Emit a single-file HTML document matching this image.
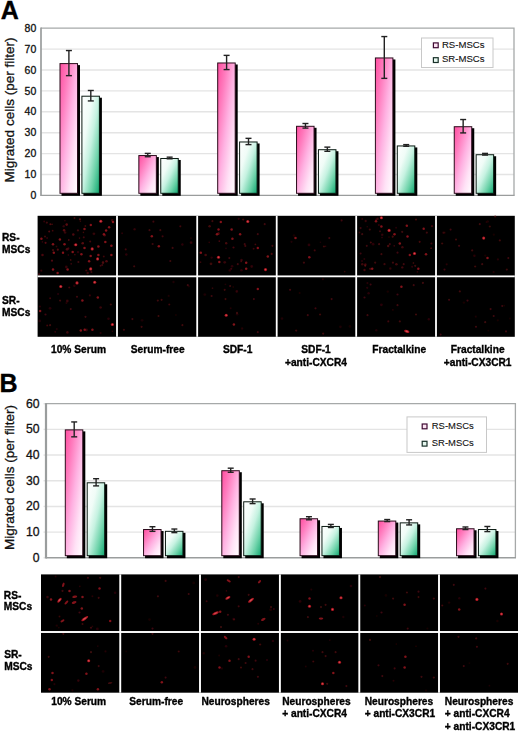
<!DOCTYPE html><html><head><meta charset="utf-8"><style>
html,body{margin:0;padding:0;background:#fff;}
svg{display:block;font-family:'Liberation Sans', sans-serif;filter:blur(0.35px);}
</style></head><body>
<svg width="520" height="731" viewBox="0 0 520 731">
<defs>
<linearGradient id="gp" x1="0" y1="0" x2="1" y2="1"><stop offset="0" stop-color="#ff4d9f"/><stop offset="0.25" stop-color="#ff7cbe"/><stop offset="0.5" stop-color="#ffb2e2"/><stop offset="0.75" stop-color="#ffe2f6"/><stop offset="1" stop-color="#ffffff"/></linearGradient>
<linearGradient id="gg" x1="0" y1="0" x2="1" y2="1"><stop offset="0" stop-color="#ffffff"/><stop offset="0.3" stop-color="#f0fcf7"/><stop offset="0.5" stop-color="#c6f2e1"/><stop offset="0.75" stop-color="#6ed3aa"/><stop offset="1" stop-color="#10a770"/></linearGradient>
<linearGradient id="gps" x1="0" y1="0" x2="1" y2="1"><stop offset="0" stop-color="#ff8cc8"/><stop offset="1" stop-color="#ffe6f4"/></linearGradient>
<linearGradient id="ggs" x1="0" y1="0" x2="1" y2="1"><stop offset="0" stop-color="#e6fff4"/><stop offset="1" stop-color="#7ad4b0"/></linearGradient>
<filter id="bl" x="-5%" y="-5%" width="110%" height="110%"><feGaussianBlur stdDeviation="0.65"/></filter>
</defs>
<rect width="520" height="731" fill="#fff"/>

<text x="0.80" y="19.30" font-size="25" font-weight="bold" text-anchor="start" fill="#000" stroke="#000" stroke-width="0.35" >A</text>
<line x1="41" y1="174.50" x2="514" y2="174.50" stroke="#e4e4e4" stroke-width="1.4"/>
<line x1="41" y1="153.60" x2="514" y2="153.60" stroke="#e4e4e4" stroke-width="1.4"/>
<line x1="41" y1="132.70" x2="514" y2="132.70" stroke="#e4e4e4" stroke-width="1.4"/>
<line x1="41" y1="111.80" x2="514" y2="111.80" stroke="#e4e4e4" stroke-width="1.4"/>
<line x1="41" y1="90.90" x2="514" y2="90.90" stroke="#e4e4e4" stroke-width="1.4"/>
<line x1="41" y1="70.00" x2="514" y2="70.00" stroke="#e4e4e4" stroke-width="1.4"/>
<line x1="41" y1="49.10" x2="514" y2="49.10" stroke="#e4e4e4" stroke-width="1.4"/>
<polyline points="41,28.20 514,28.20 514,195.40" fill="none" stroke="#a6a9a9" stroke-width="1.3"/>
<text x="36.30" y="199.00" font-size="10.5" font-weight="normal" text-anchor="end" fill="#111" stroke="#111" stroke-width="0.3" >0</text>
<text x="36.30" y="178.10" font-size="10.5" font-weight="normal" text-anchor="end" fill="#111" stroke="#111" stroke-width="0.3" >10</text>
<text x="36.30" y="157.20" font-size="10.5" font-weight="normal" text-anchor="end" fill="#111" stroke="#111" stroke-width="0.3" >20</text>
<text x="36.30" y="136.30" font-size="10.5" font-weight="normal" text-anchor="end" fill="#111" stroke="#111" stroke-width="0.3" >30</text>
<text x="36.30" y="115.40" font-size="10.5" font-weight="normal" text-anchor="end" fill="#111" stroke="#111" stroke-width="0.3" >40</text>
<text x="36.30" y="94.50" font-size="10.5" font-weight="normal" text-anchor="end" fill="#111" stroke="#111" stroke-width="0.3" >50</text>
<text x="36.30" y="73.60" font-size="10.5" font-weight="normal" text-anchor="end" fill="#111" stroke="#111" stroke-width="0.3" >60</text>
<text x="36.30" y="52.70" font-size="10.5" font-weight="normal" text-anchor="end" fill="#111" stroke="#111" stroke-width="0.3" >70</text>
<text x="36.30" y="31.80" font-size="10.5" font-weight="normal" text-anchor="end" fill="#111" stroke="#111" stroke-width="0.3" >80</text>
<line x1="41" y1="27.60" x2="41" y2="196.10" stroke="#9a9d9d" stroke-width="1.7"/>
<line x1="41" y1="195.40" x2="514.6" y2="195.40" stroke="#9a9d9d" stroke-width="1.4"/>
<rect x="61.50" y="65.10" width="18.5" height="130.70" fill="#000"/>
<rect x="60.00" y="63.60" width="17.5" height="129.70" fill="url(#gp)" stroke="#2a0a1a" stroke-width="1"/>
<line x1="68.90" y1="50.56" x2="68.90" y2="75.64" stroke="#222" stroke-width="1.4"/>
<line x1="65.90" y1="50.56" x2="71.90" y2="50.56" stroke="#222" stroke-width="1.4"/>
<line x1="65.90" y1="75.64" x2="71.90" y2="75.64" stroke="#222" stroke-width="1.4"/>
<rect x="83.40" y="97.71" width="18.5" height="98.09" fill="#000"/>
<rect x="81.90" y="96.21" width="17.5" height="97.09" fill="url(#gg)" stroke="#0a1a12" stroke-width="1"/>
<line x1="90.80" y1="90.48" x2="90.80" y2="100.93" stroke="#222" stroke-width="1.4"/>
<line x1="87.80" y1="90.48" x2="93.80" y2="90.48" stroke="#222" stroke-width="1.4"/>
<line x1="87.80" y1="100.93" x2="93.80" y2="100.93" stroke="#222" stroke-width="1.4"/>
<rect x="140.35" y="157.06" width="18.5" height="38.74" fill="#000"/>
<rect x="138.85" y="155.56" width="17.5" height="37.74" fill="url(#gp)" stroke="#2a0a1a" stroke-width="1"/>
<line x1="147.75" y1="153.39" x2="147.75" y2="156.74" stroke="#222" stroke-width="1.4"/>
<line x1="144.75" y1="153.39" x2="150.75" y2="153.39" stroke="#222" stroke-width="1.4"/>
<line x1="144.75" y1="156.74" x2="150.75" y2="156.74" stroke="#222" stroke-width="1.4"/>
<rect x="162.25" y="159.99" width="18.5" height="35.81" fill="#000"/>
<rect x="160.75" y="158.49" width="17.5" height="34.81" fill="url(#gg)" stroke="#0a1a12" stroke-width="1"/>
<line x1="169.65" y1="157.15" x2="169.65" y2="158.82" stroke="#222" stroke-width="1.4"/>
<line x1="166.65" y1="157.15" x2="172.65" y2="157.15" stroke="#222" stroke-width="1.4"/>
<line x1="166.65" y1="158.82" x2="172.65" y2="158.82" stroke="#222" stroke-width="1.4"/>
<rect x="219.20" y="64.48" width="18.5" height="131.32" fill="#000"/>
<rect x="217.70" y="62.98" width="17.5" height="130.32" fill="url(#gp)" stroke="#2a0a1a" stroke-width="1"/>
<line x1="226.60" y1="55.37" x2="226.60" y2="69.58" stroke="#222" stroke-width="1.4"/>
<line x1="223.60" y1="55.37" x2="229.60" y2="55.37" stroke="#222" stroke-width="1.4"/>
<line x1="223.60" y1="69.58" x2="229.60" y2="69.58" stroke="#222" stroke-width="1.4"/>
<rect x="241.10" y="143.48" width="18.5" height="52.32" fill="#000"/>
<rect x="239.60" y="141.98" width="17.5" height="51.32" fill="url(#gg)" stroke="#0a1a12" stroke-width="1"/>
<line x1="248.50" y1="138.34" x2="248.50" y2="144.61" stroke="#222" stroke-width="1.4"/>
<line x1="245.50" y1="138.34" x2="251.50" y2="138.34" stroke="#222" stroke-width="1.4"/>
<line x1="245.50" y1="144.61" x2="251.50" y2="144.61" stroke="#222" stroke-width="1.4"/>
<rect x="298.05" y="127.80" width="18.5" height="68.00" fill="#000"/>
<rect x="296.55" y="126.30" width="17.5" height="67.00" fill="url(#gp)" stroke="#2a0a1a" stroke-width="1"/>
<line x1="305.45" y1="123.50" x2="305.45" y2="128.10" stroke="#222" stroke-width="1.4"/>
<line x1="302.45" y1="123.50" x2="308.45" y2="123.50" stroke="#222" stroke-width="1.4"/>
<line x1="302.45" y1="128.10" x2="308.45" y2="128.10" stroke="#222" stroke-width="1.4"/>
<rect x="319.95" y="151.21" width="18.5" height="44.59" fill="#000"/>
<rect x="318.45" y="149.71" width="17.5" height="43.59" fill="url(#gg)" stroke="#0a1a12" stroke-width="1"/>
<line x1="327.35" y1="147.12" x2="327.35" y2="151.30" stroke="#222" stroke-width="1.4"/>
<line x1="324.35" y1="147.12" x2="330.35" y2="147.12" stroke="#222" stroke-width="1.4"/>
<line x1="324.35" y1="151.30" x2="330.35" y2="151.30" stroke="#222" stroke-width="1.4"/>
<rect x="376.90" y="59.46" width="18.5" height="136.34" fill="#000"/>
<rect x="375.40" y="57.96" width="17.5" height="135.34" fill="url(#gp)" stroke="#2a0a1a" stroke-width="1"/>
<line x1="384.30" y1="36.56" x2="384.30" y2="78.36" stroke="#222" stroke-width="1.4"/>
<line x1="381.30" y1="36.56" x2="387.30" y2="36.56" stroke="#222" stroke-width="1.4"/>
<line x1="381.30" y1="78.36" x2="387.30" y2="78.36" stroke="#222" stroke-width="1.4"/>
<rect x="398.80" y="147.45" width="18.5" height="48.35" fill="#000"/>
<rect x="397.30" y="145.95" width="17.5" height="47.35" fill="url(#gg)" stroke="#0a1a12" stroke-width="1"/>
<line x1="406.20" y1="144.61" x2="406.20" y2="146.28" stroke="#222" stroke-width="1.4"/>
<line x1="403.20" y1="144.61" x2="409.20" y2="144.61" stroke="#222" stroke-width="1.4"/>
<line x1="403.20" y1="146.28" x2="409.20" y2="146.28" stroke="#222" stroke-width="1.4"/>
<rect x="455.75" y="128.22" width="18.5" height="67.58" fill="#000"/>
<rect x="454.25" y="126.72" width="17.5" height="66.58" fill="url(#gp)" stroke="#2a0a1a" stroke-width="1"/>
<line x1="463.15" y1="119.53" x2="463.15" y2="132.91" stroke="#222" stroke-width="1.4"/>
<line x1="460.15" y1="119.53" x2="466.15" y2="119.53" stroke="#222" stroke-width="1.4"/>
<line x1="460.15" y1="132.91" x2="466.15" y2="132.91" stroke="#222" stroke-width="1.4"/>
<rect x="477.65" y="156.23" width="18.5" height="39.57" fill="#000"/>
<rect x="476.15" y="154.73" width="17.5" height="38.57" fill="url(#gg)" stroke="#0a1a12" stroke-width="1"/>
<line x1="485.05" y1="153.39" x2="485.05" y2="155.06" stroke="#222" stroke-width="1.4"/>
<line x1="482.05" y1="153.39" x2="488.05" y2="153.39" stroke="#222" stroke-width="1.4"/>
<line x1="482.05" y1="155.06" x2="488.05" y2="155.06" stroke="#222" stroke-width="1.4"/>
<text x="0" y="0" font-size="13.5" text-anchor="middle" fill="#111" stroke="#111" stroke-width="0.3" transform="translate(14,110) rotate(-90)">Migrated cells (per filter)</text>
<rect x="421.5" y="38.0" width="71.5" height="29.5" fill="#fff" stroke="#c8c8c8" stroke-width="1"/>
<rect x="433.40000000000003" y="42.9" width="4.8" height="4.8" fill="#fbe2f1" stroke="#3e0a32" stroke-width="1.2"/>
<text x="441.90" y="48.30" font-size="9.6" font-weight="normal" text-anchor="start" fill="#111" stroke="#111" stroke-width="0.1" >RS-MSCs</text>
<rect x="433.40000000000003" y="57.7" width="4.8" height="4.8" fill="#e6f7ef" stroke="#183028" stroke-width="1.2"/>
<text x="441.90" y="61.90" font-size="9.6" font-weight="normal" text-anchor="start" fill="#111" stroke="#111" stroke-width="0.1" >SR-MSCs</text>
<text x="-0.60" y="391.70" font-size="25" font-weight="bold" text-anchor="start" fill="#000" stroke="#000" stroke-width="0.35" >B</text>
<line x1="46" y1="532.12" x2="515.4" y2="532.12" stroke="#e4e4e4" stroke-width="1.4"/>
<line x1="46" y1="506.43" x2="515.4" y2="506.43" stroke="#e4e4e4" stroke-width="1.4"/>
<line x1="46" y1="480.75" x2="515.4" y2="480.75" stroke="#e4e4e4" stroke-width="1.4"/>
<line x1="46" y1="455.07" x2="515.4" y2="455.07" stroke="#e4e4e4" stroke-width="1.4"/>
<line x1="46" y1="429.38" x2="515.4" y2="429.38" stroke="#e4e4e4" stroke-width="1.4"/>
<polyline points="46,403.70 515.4,403.70 515.4,557.80" fill="none" stroke="#a6a9a9" stroke-width="1.3"/>
<line x1="43.5" y1="557.80" x2="46" y2="557.80" stroke="#e4e4e4" stroke-width="1.4"/>
<text x="39.60" y="561.80" font-size="12.2" font-weight="normal" text-anchor="end" fill="#111" stroke="#111" stroke-width="0.3" >0</text>
<line x1="43.5" y1="532.12" x2="46" y2="532.12" stroke="#e4e4e4" stroke-width="1.4"/>
<text x="39.60" y="536.12" font-size="12.2" font-weight="normal" text-anchor="end" fill="#111" stroke="#111" stroke-width="0.3" >10</text>
<line x1="43.5" y1="506.43" x2="46" y2="506.43" stroke="#e4e4e4" stroke-width="1.4"/>
<text x="39.60" y="510.43" font-size="12.2" font-weight="normal" text-anchor="end" fill="#111" stroke="#111" stroke-width="0.3" >20</text>
<line x1="43.5" y1="480.75" x2="46" y2="480.75" stroke="#e4e4e4" stroke-width="1.4"/>
<text x="39.60" y="484.75" font-size="12.2" font-weight="normal" text-anchor="end" fill="#111" stroke="#111" stroke-width="0.3" >30</text>
<line x1="43.5" y1="455.07" x2="46" y2="455.07" stroke="#e4e4e4" stroke-width="1.4"/>
<text x="39.60" y="459.07" font-size="12.2" font-weight="normal" text-anchor="end" fill="#111" stroke="#111" stroke-width="0.3" >40</text>
<line x1="43.5" y1="429.38" x2="46" y2="429.38" stroke="#e4e4e4" stroke-width="1.4"/>
<text x="39.60" y="433.38" font-size="12.2" font-weight="normal" text-anchor="end" fill="#111" stroke="#111" stroke-width="0.3" >50</text>
<line x1="43.5" y1="403.70" x2="46" y2="403.70" stroke="#e4e4e4" stroke-width="1.4"/>
<text x="39.60" y="407.70" font-size="12.2" font-weight="normal" text-anchor="end" fill="#111" stroke="#111" stroke-width="0.3" >60</text>
<line x1="46" y1="403.10" x2="46" y2="558.50" stroke="#9a9d9d" stroke-width="2.2"/>
<line x1="46" y1="557.80" x2="516.0" y2="557.80" stroke="#9a9d9d" stroke-width="1.4"/>
<rect x="66.80" y="431.38" width="18.5" height="126.82" fill="#000"/>
<rect x="65.30" y="429.88" width="17.5" height="125.82" fill="url(#gp)" stroke="#2a0a1a" stroke-width="1"/>
<line x1="74.20" y1="421.94" x2="74.20" y2="436.83" stroke="#222" stroke-width="1.4"/>
<line x1="71.20" y1="421.94" x2="77.20" y2="421.94" stroke="#222" stroke-width="1.4"/>
<line x1="71.20" y1="436.83" x2="77.20" y2="436.83" stroke="#222" stroke-width="1.4"/>
<rect x="88.70" y="484.29" width="18.5" height="73.91" fill="#000"/>
<rect x="87.20" y="482.79" width="17.5" height="72.91" fill="url(#gg)" stroke="#0a1a12" stroke-width="1"/>
<line x1="96.10" y1="478.70" x2="96.10" y2="485.89" stroke="#222" stroke-width="1.4"/>
<line x1="93.10" y1="478.70" x2="99.10" y2="478.70" stroke="#222" stroke-width="1.4"/>
<line x1="93.10" y1="485.89" x2="99.10" y2="485.89" stroke="#222" stroke-width="1.4"/>
<rect x="145.05" y="531.03" width="18.5" height="27.17" fill="#000"/>
<rect x="143.55" y="529.53" width="17.5" height="26.17" fill="url(#gp)" stroke="#2a0a1a" stroke-width="1"/>
<line x1="152.45" y1="526.72" x2="152.45" y2="531.35" stroke="#222" stroke-width="1.4"/>
<line x1="149.45" y1="526.72" x2="155.45" y2="526.72" stroke="#222" stroke-width="1.4"/>
<line x1="149.45" y1="531.35" x2="155.45" y2="531.35" stroke="#222" stroke-width="1.4"/>
<rect x="166.95" y="532.83" width="18.5" height="25.37" fill="#000"/>
<rect x="165.45" y="531.33" width="17.5" height="24.37" fill="url(#gg)" stroke="#0a1a12" stroke-width="1"/>
<line x1="174.35" y1="529.03" x2="174.35" y2="532.63" stroke="#222" stroke-width="1.4"/>
<line x1="171.35" y1="529.03" x2="177.35" y2="529.03" stroke="#222" stroke-width="1.4"/>
<line x1="171.35" y1="532.63" x2="177.35" y2="532.63" stroke="#222" stroke-width="1.4"/>
<rect x="223.30" y="472.22" width="18.5" height="85.98" fill="#000"/>
<rect x="221.80" y="470.72" width="17.5" height="84.98" fill="url(#gp)" stroke="#2a0a1a" stroke-width="1"/>
<line x1="230.70" y1="468.17" x2="230.70" y2="472.27" stroke="#222" stroke-width="1.4"/>
<line x1="227.70" y1="468.17" x2="233.70" y2="468.17" stroke="#222" stroke-width="1.4"/>
<line x1="227.70" y1="472.27" x2="233.70" y2="472.27" stroke="#222" stroke-width="1.4"/>
<rect x="245.20" y="503.30" width="18.5" height="54.90" fill="#000"/>
<rect x="243.70" y="501.80" width="17.5" height="53.90" fill="url(#gg)" stroke="#0a1a12" stroke-width="1"/>
<line x1="252.60" y1="498.99" x2="252.60" y2="503.61" stroke="#222" stroke-width="1.4"/>
<line x1="249.60" y1="498.99" x2="255.60" y2="498.99" stroke="#222" stroke-width="1.4"/>
<line x1="249.60" y1="503.61" x2="255.60" y2="503.61" stroke="#222" stroke-width="1.4"/>
<rect x="301.55" y="520.25" width="18.5" height="37.95" fill="#000"/>
<rect x="300.05" y="518.75" width="17.5" height="36.95" fill="url(#gp)" stroke="#2a0a1a" stroke-width="1"/>
<line x1="308.95" y1="516.71" x2="308.95" y2="519.79" stroke="#222" stroke-width="1.4"/>
<line x1="305.95" y1="516.71" x2="311.95" y2="516.71" stroke="#222" stroke-width="1.4"/>
<line x1="305.95" y1="519.79" x2="311.95" y2="519.79" stroke="#222" stroke-width="1.4"/>
<rect x="323.45" y="527.95" width="18.5" height="30.25" fill="#000"/>
<rect x="321.95" y="526.45" width="17.5" height="29.25" fill="url(#gg)" stroke="#0a1a12" stroke-width="1"/>
<line x1="330.85" y1="524.41" x2="330.85" y2="527.49" stroke="#222" stroke-width="1.4"/>
<line x1="327.85" y1="524.41" x2="333.85" y2="524.41" stroke="#222" stroke-width="1.4"/>
<line x1="327.85" y1="527.49" x2="333.85" y2="527.49" stroke="#222" stroke-width="1.4"/>
<rect x="379.80" y="522.56" width="18.5" height="35.64" fill="#000"/>
<rect x="378.30" y="521.06" width="17.5" height="34.64" fill="url(#gp)" stroke="#2a0a1a" stroke-width="1"/>
<line x1="387.20" y1="519.53" x2="387.20" y2="521.59" stroke="#222" stroke-width="1.4"/>
<line x1="384.20" y1="519.53" x2="390.20" y2="519.53" stroke="#222" stroke-width="1.4"/>
<line x1="384.20" y1="521.59" x2="390.20" y2="521.59" stroke="#222" stroke-width="1.4"/>
<rect x="401.70" y="524.36" width="18.5" height="33.84" fill="#000"/>
<rect x="400.20" y="522.86" width="17.5" height="32.84" fill="url(#gg)" stroke="#0a1a12" stroke-width="1"/>
<line x1="409.10" y1="519.79" x2="409.10" y2="524.93" stroke="#222" stroke-width="1.4"/>
<line x1="406.10" y1="519.79" x2="412.10" y2="519.79" stroke="#222" stroke-width="1.4"/>
<line x1="406.10" y1="524.93" x2="412.10" y2="524.93" stroke="#222" stroke-width="1.4"/>
<rect x="458.05" y="530.26" width="18.5" height="27.94" fill="#000"/>
<rect x="456.55" y="528.76" width="17.5" height="26.94" fill="url(#gp)" stroke="#2a0a1a" stroke-width="1"/>
<line x1="465.45" y1="526.98" x2="465.45" y2="529.55" stroke="#222" stroke-width="1.4"/>
<line x1="462.45" y1="526.98" x2="468.45" y2="526.98" stroke="#222" stroke-width="1.4"/>
<line x1="462.45" y1="529.55" x2="468.45" y2="529.55" stroke="#222" stroke-width="1.4"/>
<rect x="479.95" y="531.03" width="18.5" height="27.17" fill="#000"/>
<rect x="478.45" y="529.53" width="17.5" height="26.17" fill="url(#gg)" stroke="#0a1a12" stroke-width="1"/>
<line x1="487.35" y1="526.47" x2="487.35" y2="531.60" stroke="#222" stroke-width="1.4"/>
<line x1="484.35" y1="526.47" x2="490.35" y2="526.47" stroke="#222" stroke-width="1.4"/>
<line x1="484.35" y1="531.60" x2="490.35" y2="531.60" stroke="#222" stroke-width="1.4"/>
<text x="0" y="0" font-size="13.5" text-anchor="middle" fill="#111" stroke="#111" stroke-width="0.3" transform="translate(14,477.5) rotate(-90)">Migrated cells (per filter)</text>
<rect x="407" y="416.9" width="79.5" height="35.5" fill="#fff" stroke="#c8c8c8" stroke-width="1"/>
<rect x="422.20000000000005" y="424.0" width="4.8" height="4.8" fill="#fbe2f1" stroke="#3e0a32" stroke-width="1.2"/>
<text x="431.80" y="428.60" font-size="9.45" font-weight="normal" text-anchor="start" fill="#111" stroke="#111" stroke-width="0.1" >RS-MSCs</text>
<rect x="422.20000000000005" y="441.3" width="4.8" height="4.8" fill="#e6f7ef" stroke="#183028" stroke-width="1.2"/>
<text x="431.80" y="445.90" font-size="9.45" font-weight="normal" text-anchor="start" fill="#111" stroke="#111" stroke-width="0.1" >SR-MSCs</text>
<rect x="37.6" y="215.8" width="477.20" height="121.00" fill="#000"/>
<rect x="41.0" y="574.4" width="477.00" height="118.30" fill="#000"/>
<g filter="url(#bl)">
<circle cx="63.7" cy="226.2" r="1.2" fill="#a0141e" fill-opacity="0.29"/>
<circle cx="79.5" cy="238.1" r="0.8" fill="#a0141e" fill-opacity="0.41"/>
<circle cx="42.4" cy="241.9" r="0.8" fill="#a0141e" fill-opacity="0.30"/>
<circle cx="71.2" cy="263.8" r="0.9" fill="#a0141e" fill-opacity="0.34"/>
<circle cx="86.3" cy="270.5" r="1.1" fill="#a0141e" fill-opacity="0.38"/>
<circle cx="112.2" cy="220.4" r="1.3" fill="#a0141e" fill-opacity="0.35"/>
<circle cx="50.3" cy="224.3" r="1.0" fill="#a0141e" fill-opacity="0.50"/>
<circle cx="53.0" cy="250.1" r="1.2" fill="#a0141e" fill-opacity="0.38"/>
<circle cx="80.4" cy="221.3" r="0.8" fill="#a0141e" fill-opacity="0.33"/>
<circle cx="90.2" cy="241.6" r="1.0" fill="#a0141e" fill-opacity="0.44"/>
<circle cx="73.3" cy="234.5" r="1.3" fill="#a0141e" fill-opacity="0.47"/>
<circle cx="57.8" cy="249.7" r="1.1" fill="#a0141e" fill-opacity="0.52"/>
<circle cx="93.9" cy="233.8" r="1.4" fill="#a0141e" fill-opacity="0.31"/>
<circle cx="70.7" cy="259.9" r="0.9" fill="#a0141e" fill-opacity="0.41"/>
<circle cx="42.5" cy="255.0" r="1.3" fill="#a0141e" fill-opacity="0.43"/>
<circle cx="104.7" cy="235.2" r="1.2" fill="#a0141e" fill-opacity="0.44"/>
<circle cx="82.7" cy="243.2" r="1.3" fill="#a0141e" fill-opacity="0.53"/>
<circle cx="74.9" cy="254.7" r="0.8" fill="#a0141e" fill-opacity="0.47"/>
<circle cx="87.7" cy="273.0" r="1.3" fill="#a0141e" fill-opacity="0.35"/>
<circle cx="68.3" cy="255.0" r="0.8" fill="#a0141e" fill-opacity="0.40"/>
<circle cx="52.1" cy="224.3" r="0.8" fill="#a0141e" fill-opacity="0.49"/>
<circle cx="49.2" cy="231.6" r="1.0" fill="#a0141e" fill-opacity="0.51"/>
<circle cx="45.6" cy="242.8" r="1.1" fill="#a0141e" fill-opacity="0.52"/>
<circle cx="100.6" cy="265.8" r="1.0" fill="#a0141e" fill-opacity="0.39"/>
<circle cx="66.3" cy="267.0" r="1.4" fill="#a0141e" fill-opacity="0.32"/>
<circle cx="52.7" cy="230.7" r="0.9" fill="#a0141e" fill-opacity="0.41"/>
<circle cx="83.4" cy="232.4" r="0.8" fill="#a0141e" fill-opacity="0.39"/>
<circle cx="67.1" cy="249.3" r="1.4" fill="#a0141e" fill-opacity="0.46"/>
<circle cx="78.0" cy="252.1" r="1.2" fill="#a0141e" fill-opacity="0.29"/>
<circle cx="106.5" cy="261.2" r="1.3" fill="#a0141e" fill-opacity="0.49"/>
<circle cx="68.8" cy="240.0" r="0.9" fill="#a0141e" fill-opacity="0.45"/>
<circle cx="44.2" cy="221.5" r="0.9" fill="#a0141e" fill-opacity="0.32"/>
<circle cx="64.9" cy="220.7" r="0.8" fill="#a0141e" fill-opacity="0.32"/>
<circle cx="47.1" cy="238.0" r="0.8" fill="#a0141e" fill-opacity="0.52"/>
<circle cx="85.3" cy="226.1" r="1.0" fill="#a0141e" fill-opacity="0.37"/>
<circle cx="66.7" cy="224.6" r="1.3" fill="#a0141e" fill-opacity="0.55"/>
<circle cx="74.3" cy="244.7" r="0.9" fill="#a0141e" fill-opacity="0.30"/>
<circle cx="65.1" cy="232.5" r="1.3" fill="#a0141e" fill-opacity="0.32"/>
<circle cx="41.3" cy="270.7" r="1.1" fill="#a0141e" fill-opacity="0.32"/>
<circle cx="80.0" cy="219.3" r="1.1" fill="#a0141e" fill-opacity="0.54"/>
<circle cx="103.8" cy="256.5" r="1.0" fill="#a0141e" fill-opacity="0.38"/>
<circle cx="52.0" cy="260.7" r="1.1" fill="#a0141e" fill-opacity="0.49"/>
<circle cx="64.1" cy="230.2" r="1.3" fill="#a0141e" fill-opacity="0.55"/>
<circle cx="103.0" cy="262.6" r="1.3" fill="#a0141e" fill-opacity="0.48"/>
<circle cx="56.5" cy="246.6" r="1.0" fill="#a0141e" fill-opacity="0.28"/>
<circle cx="122.1" cy="233.3" r="1.0" fill="#a0141e" fill-opacity="0.25"/>
<circle cx="191.1" cy="242.7" r="1.4" fill="#a0141e" fill-opacity="0.30"/>
<circle cx="191.0" cy="238.1" r="0.9" fill="#a0141e" fill-opacity="0.18"/>
<circle cx="134.6" cy="229.2" r="1.2" fill="#a0141e" fill-opacity="0.29"/>
<circle cx="182.4" cy="244.5" r="1.2" fill="#a0141e" fill-opacity="0.27"/>
<circle cx="126.3" cy="254.5" r="1.3" fill="#a0141e" fill-opacity="0.27"/>
<circle cx="255.4" cy="244.4" r="0.9" fill="#a0141e" fill-opacity="0.40"/>
<circle cx="224.7" cy="262.3" r="1.4" fill="#a0141e" fill-opacity="0.31"/>
<circle cx="229.7" cy="270.4" r="1.2" fill="#a0141e" fill-opacity="0.26"/>
<circle cx="209.6" cy="226.2" r="1.3" fill="#a0141e" fill-opacity="0.41"/>
<circle cx="211.0" cy="263.8" r="1.4" fill="#a0141e" fill-opacity="0.37"/>
<circle cx="226.0" cy="248.3" r="0.9" fill="#a0141e" fill-opacity="0.23"/>
<circle cx="271.7" cy="253.9" r="1.1" fill="#a0141e" fill-opacity="0.44"/>
<circle cx="232.1" cy="266.3" r="1.3" fill="#a0141e" fill-opacity="0.27"/>
<circle cx="218.7" cy="234.1" r="0.9" fill="#a0141e" fill-opacity="0.36"/>
<circle cx="219.3" cy="241.1" r="0.9" fill="#a0141e" fill-opacity="0.43"/>
<circle cx="226.2" cy="243.3" r="1.2" fill="#a0141e" fill-opacity="0.43"/>
<circle cx="231.2" cy="268.8" r="1.1" fill="#a0141e" fill-opacity="0.34"/>
<circle cx="238.7" cy="218.8" r="1.1" fill="#a0141e" fill-opacity="0.27"/>
<circle cx="200.5" cy="262.2" r="0.9" fill="#a0141e" fill-opacity="0.33"/>
<circle cx="253.6" cy="248.7" r="1.0" fill="#a0141e" fill-opacity="0.34"/>
<circle cx="241.1" cy="261.4" r="0.9" fill="#a0141e" fill-opacity="0.35"/>
<circle cx="218.5" cy="233.2" r="1.3" fill="#a0141e" fill-opacity="0.34"/>
<circle cx="241.5" cy="260.1" r="1.3" fill="#a0141e" fill-opacity="0.32"/>
<circle cx="245.3" cy="245.9" r="1.1" fill="#a0141e" fill-opacity="0.38"/>
<circle cx="233.5" cy="247.5" r="1.1" fill="#a0141e" fill-opacity="0.44"/>
<circle cx="251.7" cy="266.5" r="1.4" fill="#a0141e" fill-opacity="0.28"/>
<circle cx="241.4" cy="270.2" r="1.3" fill="#a0141e" fill-opacity="0.26"/>
<circle cx="209.2" cy="242.4" r="0.8" fill="#a0141e" fill-opacity="0.28"/>
<circle cx="205.6" cy="255.0" r="1.3" fill="#a0141e" fill-opacity="0.43"/>
<circle cx="211.6" cy="257.6" r="1.2" fill="#a0141e" fill-opacity="0.26"/>
<circle cx="344.7" cy="271.6" r="0.9" fill="#a0141e" fill-opacity="0.29"/>
<circle cx="309.0" cy="244.9" r="1.4" fill="#a0141e" fill-opacity="0.27"/>
<circle cx="291.5" cy="241.8" r="1.1" fill="#a0141e" fill-opacity="0.20"/>
<circle cx="294.0" cy="235.5" r="1.2" fill="#a0141e" fill-opacity="0.15"/>
<circle cx="320.4" cy="242.3" r="0.8" fill="#a0141e" fill-opacity="0.20"/>
<circle cx="325.6" cy="246.3" r="0.8" fill="#a0141e" fill-opacity="0.30"/>
<circle cx="417.4" cy="271.8" r="0.9" fill="#a0141e" fill-opacity="0.28"/>
<circle cx="362.0" cy="261.1" r="1.0" fill="#a0141e" fill-opacity="0.25"/>
<circle cx="390.3" cy="268.5" r="1.3" fill="#a0141e" fill-opacity="0.28"/>
<circle cx="370.2" cy="268.9" r="1.1" fill="#a0141e" fill-opacity="0.38"/>
<circle cx="365.7" cy="221.0" r="1.2" fill="#a0141e" fill-opacity="0.32"/>
<circle cx="364.5" cy="270.0" r="1.2" fill="#a0141e" fill-opacity="0.41"/>
<circle cx="365.3" cy="265.4" r="0.8" fill="#a0141e" fill-opacity="0.42"/>
<circle cx="392.7" cy="236.7" r="1.1" fill="#a0141e" fill-opacity="0.43"/>
<circle cx="378.9" cy="225.0" r="1.1" fill="#a0141e" fill-opacity="0.28"/>
<circle cx="367.2" cy="226.8" r="0.8" fill="#a0141e" fill-opacity="0.27"/>
<circle cx="382.2" cy="234.8" r="1.3" fill="#a0141e" fill-opacity="0.29"/>
<circle cx="396.1" cy="227.7" r="1.0" fill="#a0141e" fill-opacity="0.23"/>
<circle cx="377.6" cy="218.7" r="1.2" fill="#a0141e" fill-opacity="0.35"/>
<circle cx="373.1" cy="244.2" r="1.4" fill="#a0141e" fill-opacity="0.25"/>
<circle cx="419.7" cy="241.8" r="1.1" fill="#a0141e" fill-opacity="0.41"/>
<circle cx="388.2" cy="246.0" r="1.2" fill="#a0141e" fill-opacity="0.45"/>
<circle cx="384.5" cy="264.1" r="1.2" fill="#a0141e" fill-opacity="0.37"/>
<circle cx="389.0" cy="237.1" r="0.8" fill="#a0141e" fill-opacity="0.25"/>
<circle cx="364.3" cy="259.0" r="1.0" fill="#a0141e" fill-opacity="0.26"/>
<circle cx="365.4" cy="264.6" r="1.3" fill="#a0141e" fill-opacity="0.38"/>
<circle cx="380.0" cy="231.3" r="1.0" fill="#a0141e" fill-opacity="0.33"/>
<circle cx="370.8" cy="242.6" r="1.0" fill="#a0141e" fill-opacity="0.44"/>
<circle cx="431.1" cy="248.2" r="0.9" fill="#a0141e" fill-opacity="0.44"/>
<circle cx="382.0" cy="237.6" r="0.8" fill="#a0141e" fill-opacity="0.31"/>
<circle cx="394.2" cy="245.8" r="0.9" fill="#a0141e" fill-opacity="0.34"/>
<circle cx="359.5" cy="232.5" r="0.9" fill="#a0141e" fill-opacity="0.31"/>
<circle cx="362.2" cy="219.1" r="1.0" fill="#a0141e" fill-opacity="0.28"/>
<circle cx="402.4" cy="247.2" r="1.3" fill="#a0141e" fill-opacity="0.37"/>
<circle cx="412.1" cy="266.7" r="1.0" fill="#a0141e" fill-opacity="0.30"/>
<circle cx="432.0" cy="226.1" r="1.2" fill="#a0141e" fill-opacity="0.37"/>
<circle cx="362.3" cy="264.2" r="1.3" fill="#a0141e" fill-opacity="0.37"/>
<circle cx="413.4" cy="263.0" r="0.9" fill="#a0141e" fill-opacity="0.34"/>
<circle cx="396.4" cy="264.2" r="1.3" fill="#a0141e" fill-opacity="0.41"/>
<circle cx="402.3" cy="267.4" r="1.2" fill="#a0141e" fill-opacity="0.38"/>
<circle cx="376.1" cy="219.5" r="0.9" fill="#a0141e" fill-opacity="0.31"/>
<circle cx="446.7" cy="264.3" r="1.1" fill="#a0141e" fill-opacity="0.24"/>
<circle cx="485.2" cy="255.6" r="1.1" fill="#a0141e" fill-opacity="0.15"/>
<circle cx="497.9" cy="259.4" r="1.1" fill="#a0141e" fill-opacity="0.23"/>
<circle cx="487.7" cy="221.5" r="1.2" fill="#a0141e" fill-opacity="0.19"/>
<circle cx="444.5" cy="232.6" r="1.2" fill="#a0141e" fill-opacity="0.18"/>
<circle cx="493.6" cy="272.1" r="1.1" fill="#a0141e" fill-opacity="0.21"/>
<circle cx="474.4" cy="255.8" r="1.3" fill="#a0141e" fill-opacity="0.24"/>
<circle cx="486.4" cy="222.1" r="0.9" fill="#a0141e" fill-opacity="0.19"/>
<circle cx="493.8" cy="234.7" r="1.1" fill="#a0141e" fill-opacity="0.15"/>
<circle cx="443.5" cy="232.7" r="1.2" fill="#a0141e" fill-opacity="0.25"/>
<circle cx="89.9" cy="295.4" r="1.1" fill="#a0141e" fill-opacity="0.29"/>
<circle cx="74.3" cy="285.8" r="1.3" fill="#a0141e" fill-opacity="0.24"/>
<circle cx="112.4" cy="331.3" r="0.8" fill="#a0141e" fill-opacity="0.29"/>
<circle cx="100.6" cy="333.0" r="1.1" fill="#a0141e" fill-opacity="0.25"/>
<circle cx="55.2" cy="331.8" r="0.9" fill="#a0141e" fill-opacity="0.32"/>
<circle cx="50.1" cy="308.3" r="1.4" fill="#a0141e" fill-opacity="0.23"/>
<circle cx="100.6" cy="307.5" r="1.3" fill="#a0141e" fill-opacity="0.34"/>
<circle cx="56.8" cy="329.1" r="1.1" fill="#a0141e" fill-opacity="0.20"/>
<circle cx="39.9" cy="306.5" r="1.1" fill="#a0141e" fill-opacity="0.26"/>
<circle cx="50.1" cy="298.3" r="1.0" fill="#a0141e" fill-opacity="0.37"/>
<circle cx="39.7" cy="320.9" r="1.3" fill="#a0141e" fill-opacity="0.22"/>
<circle cx="108.5" cy="318.8" r="1.3" fill="#a0141e" fill-opacity="0.26"/>
<circle cx="67.3" cy="301.0" r="1.4" fill="#a0141e" fill-opacity="0.32"/>
<circle cx="66.4" cy="303.0" r="1.0" fill="#a0141e" fill-opacity="0.21"/>
<circle cx="47.2" cy="325.6" r="1.0" fill="#a0141e" fill-opacity="0.39"/>
<circle cx="58.1" cy="294.0" r="1.1" fill="#a0141e" fill-opacity="0.24"/>
<circle cx="67.4" cy="332.4" r="1.3" fill="#a0141e" fill-opacity="0.36"/>
<circle cx="86.5" cy="330.0" r="1.4" fill="#a0141e" fill-opacity="0.31"/>
<circle cx="173.5" cy="282.0" r="1.2" fill="#a0141e" fill-opacity="0.18"/>
<circle cx="175.9" cy="315.0" r="1.0" fill="#a0141e" fill-opacity="0.13"/>
<circle cx="188.9" cy="286.3" r="1.1" fill="#a0141e" fill-opacity="0.17"/>
<circle cx="142.1" cy="320.3" r="1.4" fill="#a0141e" fill-opacity="0.16"/>
<circle cx="168.7" cy="295.9" r="1.1" fill="#a0141e" fill-opacity="0.17"/>
<circle cx="212.5" cy="288.2" r="0.9" fill="#a0141e" fill-opacity="0.29"/>
<circle cx="236.8" cy="291.4" r="1.3" fill="#a0141e" fill-opacity="0.30"/>
<circle cx="233.3" cy="287.0" r="0.9" fill="#a0141e" fill-opacity="0.16"/>
<circle cx="225.4" cy="284.3" r="0.9" fill="#a0141e" fill-opacity="0.19"/>
<circle cx="242.1" cy="328.5" r="1.2" fill="#a0141e" fill-opacity="0.21"/>
<circle cx="230.7" cy="308.3" r="1.0" fill="#a0141e" fill-opacity="0.20"/>
<circle cx="204.8" cy="294.6" r="1.4" fill="#a0141e" fill-opacity="0.17"/>
<circle cx="237.2" cy="314.2" r="1.3" fill="#a0141e" fill-opacity="0.18"/>
<circle cx="299.6" cy="293.0" r="1.0" fill="#a0141e" fill-opacity="0.18"/>
<circle cx="349.9" cy="326.4" r="1.3" fill="#a0141e" fill-opacity="0.13"/>
<circle cx="282.0" cy="318.6" r="1.3" fill="#a0141e" fill-opacity="0.18"/>
<circle cx="322.9" cy="279.2" r="1.0" fill="#a0141e" fill-opacity="0.24"/>
<circle cx="340.4" cy="326.8" r="1.4" fill="#a0141e" fill-opacity="0.16"/>
<circle cx="367.2" cy="287.8" r="1.1" fill="#a0141e" fill-opacity="0.25"/>
<circle cx="428.8" cy="319.3" r="1.2" fill="#a0141e" fill-opacity="0.26"/>
<circle cx="392.9" cy="309.9" r="0.8" fill="#a0141e" fill-opacity="0.27"/>
<circle cx="376.3" cy="330.3" r="1.2" fill="#a0141e" fill-opacity="0.20"/>
<circle cx="368.6" cy="293.2" r="1.2" fill="#a0141e" fill-opacity="0.25"/>
<circle cx="367.4" cy="283.1" r="1.1" fill="#a0141e" fill-opacity="0.24"/>
<circle cx="387.8" cy="291.6" r="1.2" fill="#a0141e" fill-opacity="0.15"/>
<circle cx="381.4" cy="304.8" r="1.4" fill="#a0141e" fill-opacity="0.25"/>
<circle cx="504.2" cy="305.6" r="0.9" fill="#a0141e" fill-opacity="0.16"/>
<circle cx="509.9" cy="318.4" r="1.0" fill="#a0141e" fill-opacity="0.13"/>
<circle cx="475.8" cy="316.7" r="1.1" fill="#a0141e" fill-opacity="0.16"/>
<circle cx="488.3" cy="330.6" r="0.9" fill="#a0141e" fill-opacity="0.13"/>
<circle cx="463.9" cy="302.6" r="1.2" fill="#a0141e" fill-opacity="0.15"/>
<circle cx="497.8" cy="320.3" r="1.1" fill="#a0141e" fill-opacity="0.15"/>
<circle cx="115.1" cy="592.8" r="1.3" fill="#a0141e" fill-opacity="0.22"/>
<circle cx="59.5" cy="616.4" r="1.0" fill="#a0141e" fill-opacity="0.34"/>
<circle cx="79.8" cy="586.3" r="0.9" fill="#a0141e" fill-opacity="0.25"/>
<circle cx="92.4" cy="626.3" r="0.9" fill="#a0141e" fill-opacity="0.24"/>
<circle cx="58.8" cy="627.6" r="0.9" fill="#a0141e" fill-opacity="0.18"/>
<circle cx="47.5" cy="597.1" r="1.3" fill="#a0141e" fill-opacity="0.33"/>
<circle cx="97.4" cy="628.9" r="1.4" fill="#a0141e" fill-opacity="0.23"/>
<circle cx="56.8" cy="625.6" r="1.2" fill="#a0141e" fill-opacity="0.18"/>
<circle cx="92.4" cy="596.3" r="1.0" fill="#a0141e" fill-opacity="0.23"/>
<circle cx="55.6" cy="576.6" r="1.0" fill="#a0141e" fill-opacity="0.24"/>
<circle cx="193.7" cy="582.9" r="1.4" fill="#a0141e" fill-opacity="0.12"/>
<circle cx="149.5" cy="619.6" r="1.3" fill="#a0141e" fill-opacity="0.14"/>
<circle cx="206.6" cy="601.3" r="1.0" fill="#a0141e" fill-opacity="0.34"/>
<circle cx="217.3" cy="595.6" r="1.3" fill="#a0141e" fill-opacity="0.18"/>
<circle cx="233.4" cy="619.1" r="1.3" fill="#a0141e" fill-opacity="0.18"/>
<circle cx="205.6" cy="579.7" r="1.4" fill="#a0141e" fill-opacity="0.22"/>
<circle cx="258.2" cy="623.7" r="1.0" fill="#a0141e" fill-opacity="0.22"/>
<circle cx="273.8" cy="608.9" r="1.0" fill="#a0141e" fill-opacity="0.30"/>
<circle cx="226.4" cy="590.9" r="0.8" fill="#a0141e" fill-opacity="0.31"/>
<circle cx="270.7" cy="609.7" r="1.4" fill="#a0141e" fill-opacity="0.18"/>
<circle cx="300.1" cy="601.4" r="1.4" fill="#a0141e" fill-opacity="0.24"/>
<circle cx="311.3" cy="589.6" r="1.1" fill="#a0141e" fill-opacity="0.19"/>
<circle cx="351.0" cy="586.0" r="1.3" fill="#a0141e" fill-opacity="0.22"/>
<circle cx="343.3" cy="617.0" r="1.2" fill="#a0141e" fill-opacity="0.17"/>
<circle cx="385.9" cy="595.4" r="1.3" fill="#a0141e" fill-opacity="0.13"/>
<circle cx="376.8" cy="616.0" r="0.9" fill="#a0141e" fill-opacity="0.13"/>
<circle cx="364.8" cy="605.5" r="1.0" fill="#a0141e" fill-opacity="0.25"/>
<circle cx="427.4" cy="628.4" r="1.0" fill="#a0141e" fill-opacity="0.14"/>
<circle cx="449.1" cy="602.6" r="1.2" fill="#a0141e" fill-opacity="0.18"/>
<circle cx="459.3" cy="598.3" r="1.2" fill="#a0141e" fill-opacity="0.21"/>
<circle cx="497.4" cy="621.0" r="1.2" fill="#a0141e" fill-opacity="0.14"/>
<circle cx="105.5" cy="651.4" r="1.1" fill="#a0141e" fill-opacity="0.21"/>
<circle cx="97.8" cy="646.1" r="0.9" fill="#a0141e" fill-opacity="0.19"/>
<circle cx="54.4" cy="684.2" r="1.1" fill="#a0141e" fill-opacity="0.20"/>
<circle cx="72.4" cy="690.3" r="1.1" fill="#a0141e" fill-opacity="0.18"/>
<circle cx="103.1" cy="671.4" r="1.4" fill="#a0141e" fill-opacity="0.17"/>
<circle cx="78.3" cy="680.6" r="1.3" fill="#a0141e" fill-opacity="0.29"/>
<circle cx="126.2" cy="651.4" r="0.9" fill="#a0141e" fill-opacity="0.12"/>
<circle cx="195.0" cy="667.5" r="1.4" fill="#a0141e" fill-opacity="0.14"/>
<circle cx="267.0" cy="660.0" r="1.0" fill="#a0141e" fill-opacity="0.27"/>
<circle cx="272.9" cy="640.9" r="1.2" fill="#a0141e" fill-opacity="0.24"/>
<circle cx="219.1" cy="655.5" r="0.9" fill="#a0141e" fill-opacity="0.18"/>
<circle cx="221.8" cy="668.4" r="1.2" fill="#a0141e" fill-opacity="0.18"/>
<circle cx="203.8" cy="653.2" r="1.2" fill="#a0141e" fill-opacity="0.18"/>
<circle cx="226.1" cy="646.3" r="1.3" fill="#a0141e" fill-opacity="0.23"/>
<circle cx="287.5" cy="640.6" r="1.0" fill="#a0141e" fill-opacity="0.19"/>
<circle cx="329.8" cy="640.1" r="0.9" fill="#a0141e" fill-opacity="0.21"/>
<circle cx="313.0" cy="650.8" r="1.0" fill="#a0141e" fill-opacity="0.24"/>
<circle cx="305.8" cy="666.6" r="1.0" fill="#a0141e" fill-opacity="0.18"/>
<circle cx="426.0" cy="690.5" r="1.0" fill="#a0141e" fill-opacity="0.15"/>
<circle cx="416.0" cy="646.3" r="0.8" fill="#a0141e" fill-opacity="0.24"/>
<circle cx="393.5" cy="680.7" r="1.0" fill="#a0141e" fill-opacity="0.24"/>
<circle cx="396.3" cy="644.1" r="0.8" fill="#a0141e" fill-opacity="0.19"/>
<circle cx="489.4" cy="685.7" r="0.9" fill="#a0141e" fill-opacity="0.16"/>
<circle cx="469.4" cy="663.1" r="0.9" fill="#a0141e" fill-opacity="0.13"/>
</g>
<g filter="url(#bl)">
<circle cx="100.8" cy="221.2" r="1.55" fill="#c01a24" fill-opacity="0.9"/>
<circle cx="100.8" cy="221.2" r="0.7" fill="#f07c84" fill-opacity="0.55"/>
<circle cx="90.8" cy="225" r="1.25" fill="#a0161f" fill-opacity="0.8"/>
<circle cx="103.9" cy="234.2" r="1.25" fill="#a0161f" fill-opacity="0.8"/>
<circle cx="41.4" cy="238.8" r="1.25" fill="#a0161f" fill-opacity="0.8"/>
<circle cx="45" cy="236.6" r="1.1" fill="#5a0e16" fill-opacity="0.65"/>
<circle cx="59.9" cy="239.6" r="1.25" fill="#a0161f" fill-opacity="0.8"/>
<circle cx="53" cy="244.3" r="1.25" fill="#a0161f" fill-opacity="0.8"/>
<circle cx="64.5" cy="244.3" r="1.25" fill="#a0161f" fill-opacity="0.8"/>
<circle cx="75.8" cy="244.7" r="1.55" fill="#c01a24" fill-opacity="0.9"/>
<circle cx="75.8" cy="244.7" r="0.7" fill="#f07c84" fill-opacity="0.55"/>
<circle cx="84.5" cy="248.1" r="1.25" fill="#a0161f" fill-opacity="0.8"/>
<circle cx="92.2" cy="248.9" r="1.55" fill="#c01a24" fill-opacity="0.9"/>
<circle cx="92.2" cy="248.9" r="0.7" fill="#f07c84" fill-opacity="0.55"/>
<circle cx="98.4" cy="246.6" r="1.25" fill="#a0161f" fill-opacity="0.8"/>
<circle cx="53.8" cy="252.7" r="1.25" fill="#a0161f" fill-opacity="0.8"/>
<circle cx="63" cy="252.7" r="1.25" fill="#a0161f" fill-opacity="0.8"/>
<circle cx="72.7" cy="252" r="1.25" fill="#a0161f" fill-opacity="0.8"/>
<circle cx="81.4" cy="254.3" r="1.25" fill="#a0161f" fill-opacity="0.8"/>
<circle cx="90.7" cy="256.1" r="1.25" fill="#a0161f" fill-opacity="0.8"/>
<circle cx="98.4" cy="255" r="1.25" fill="#a0161f" fill-opacity="0.8"/>
<circle cx="97.6" cy="258.9" r="1.55" fill="#c01a24" fill-opacity="0.9"/>
<circle cx="97.6" cy="258.9" r="0.7" fill="#f07c84" fill-opacity="0.55"/>
<circle cx="89.1" cy="261.2" r="1.25" fill="#a0161f" fill-opacity="0.8"/>
<circle cx="67.6" cy="269.6" r="1.25" fill="#a0161f" fill-opacity="0.8"/>
<circle cx="90.7" cy="268.9" r="1.55" fill="#c01a24" fill-opacity="0.9"/>
<circle cx="90.7" cy="268.9" r="0.7" fill="#f07c84" fill-opacity="0.55"/>
<circle cx="53" cy="269.6" r="1.25" fill="#a0161f" fill-opacity="0.8"/>
<circle cx="57.6" cy="273" r="1.25" fill="#a0161f" fill-opacity="0.8"/>
<circle cx="111.4" cy="245.8" r="1.25" fill="#a0161f" fill-opacity="0.8"/>
<circle cx="109.1" cy="227.3" r="1.25" fill="#a0161f" fill-opacity="0.8"/>
<circle cx="77.9" cy="230.4" r="1.1" fill="#5a0e16" fill-opacity="0.65"/>
<circle cx="84.5" cy="228.9" r="1.25" fill="#a0161f" fill-opacity="0.8"/>
<circle cx="68.4" cy="248.4" r="1.1" fill="#5a0e16" fill-opacity="0.65"/>
<circle cx="74.5" cy="218.1" r="1.1" fill="#5a0e16" fill-opacity="0.65"/>
<circle cx="46.8" cy="222.7" r="1.1" fill="#5a0e16" fill-opacity="0.65"/>
<circle cx="113" cy="222" r="1.25" fill="#a0161f" fill-opacity="0.8"/>
<circle cx="105.3" cy="242" r="1.25" fill="#a0161f" fill-opacity="0.8"/>
<circle cx="102.2" cy="265" r="1.1" fill="#5a0e16" fill-opacity="0.65"/>
<circle cx="78.4" cy="262" r="1.1" fill="#5a0e16" fill-opacity="0.65"/>
<circle cx="111.4" cy="255" r="1.25" fill="#a0161f" fill-opacity="0.8"/>
<circle cx="39.1" cy="274.3" r="1.1" fill="#5a0e16" fill-opacity="0.65"/>
<circle cx="91.4" cy="272" r="1.1" fill="#5a0e16" fill-opacity="0.65"/>
<circle cx="106.1" cy="230.4" r="1.25" fill="#a0161f" fill-opacity="0.8"/>
<circle cx="83.8" cy="237.3" r="1.1" fill="#5a0e16" fill-opacity="0.65"/>
<circle cx="153.4" cy="221.7" r="1.1" fill="#5a0e16" fill-opacity="0.65"/>
<circle cx="149.5" cy="230.2" r="1.1" fill="#5a0e16" fill-opacity="0.65"/>
<circle cx="160.3" cy="230.2" r="1.1" fill="#5a0e16" fill-opacity="0.65"/>
<circle cx="151.8" cy="236.3" r="1.25" fill="#a0161f" fill-opacity="0.8"/>
<circle cx="162.6" cy="236.3" r="1.1" fill="#5a0e16" fill-opacity="0.65"/>
<circle cx="158.8" cy="246.3" r="1.25" fill="#a0161f" fill-opacity="0.8"/>
<circle cx="172.6" cy="247.9" r="1.1" fill="#5a0e16" fill-opacity="0.65"/>
<circle cx="180.3" cy="226.3" r="1.1" fill="#5a0e16" fill-opacity="0.65"/>
<circle cx="125.7" cy="249.4" r="1.1" fill="#5a0e16" fill-opacity="0.65"/>
<circle cx="134.2" cy="266.3" r="1.1" fill="#5a0e16" fill-opacity="0.65"/>
<circle cx="170.3" cy="261" r="1.1" fill="#5a0e16" fill-opacity="0.65"/>
<circle cx="152.6" cy="244" r="1.1" fill="#5a0e16" fill-opacity="0.65"/>
<circle cx="247.8" cy="221.5" r="1.55" fill="#c01a24" fill-opacity="0.9"/>
<circle cx="247.8" cy="221.5" r="0.7" fill="#f07c84" fill-opacity="0.55"/>
<circle cx="220.8" cy="221.9" r="1.25" fill="#a0161f" fill-opacity="0.8"/>
<circle cx="231.6" cy="229.6" r="1.25" fill="#a0161f" fill-opacity="0.8"/>
<circle cx="218.5" cy="229.6" r="1.25" fill="#a0161f" fill-opacity="0.8"/>
<circle cx="217" cy="234.2" r="1.25" fill="#a0161f" fill-opacity="0.8"/>
<circle cx="240.1" cy="234.2" r="1.25" fill="#a0161f" fill-opacity="0.8"/>
<circle cx="232.4" cy="238.8" r="1.25" fill="#a0161f" fill-opacity="0.8"/>
<circle cx="257.8" cy="234.2" r="1.1" fill="#5a0e16" fill-opacity="0.65"/>
<circle cx="257.8" cy="248.1" r="1.25" fill="#a0161f" fill-opacity="0.8"/>
<circle cx="200.8" cy="252.7" r="1.25" fill="#a0161f" fill-opacity="0.8"/>
<circle cx="218.5" cy="257.3" r="1.55" fill="#c01a24" fill-opacity="0.9"/>
<circle cx="218.5" cy="257.3" r="0.7" fill="#f07c84" fill-opacity="0.55"/>
<circle cx="219.3" cy="261.9" r="1.25" fill="#a0161f" fill-opacity="0.8"/>
<circle cx="246.2" cy="262.7" r="1.25" fill="#a0161f" fill-opacity="0.8"/>
<circle cx="246.2" cy="268.8" r="1.25" fill="#a0161f" fill-opacity="0.8"/>
<circle cx="265.5" cy="269.6" r="1.55" fill="#c01a24" fill-opacity="0.9"/>
<circle cx="265.5" cy="269.6" r="0.7" fill="#f07c84" fill-opacity="0.55"/>
<circle cx="267.8" cy="256.5" r="1.25" fill="#a0161f" fill-opacity="0.8"/>
<circle cx="264.7" cy="224.2" r="1.1" fill="#5a0e16" fill-opacity="0.65"/>
<circle cx="243.2" cy="219.6" r="1.1" fill="#5a0e16" fill-opacity="0.65"/>
<circle cx="229.3" cy="258.1" r="1.1" fill="#5a0e16" fill-opacity="0.65"/>
<circle cx="237.8" cy="264.2" r="1.1" fill="#5a0e16" fill-opacity="0.65"/>
<circle cx="212.4" cy="221.2" r="1.1" fill="#5a0e16" fill-opacity="0.65"/>
<circle cx="244.7" cy="244.2" r="1.1" fill="#5a0e16" fill-opacity="0.65"/>
<circle cx="272.4" cy="245.8" r="1.1" fill="#5a0e16" fill-opacity="0.65"/>
<circle cx="295.5" cy="238.1" r="1.25" fill="#a0161f" fill-opacity="0.8"/>
<circle cx="314.7" cy="250.4" r="1.1" fill="#5a0e16" fill-opacity="0.65"/>
<circle cx="309.3" cy="257.3" r="1.25" fill="#a0161f" fill-opacity="0.8"/>
<circle cx="329.3" cy="238.1" r="1.1" fill="#5a0e16" fill-opacity="0.65"/>
<circle cx="303.9" cy="262.7" r="1.1" fill="#5a0e16" fill-opacity="0.65"/>
<circle cx="341.6" cy="220.4" r="1.1" fill="#5a0e16" fill-opacity="0.65"/>
<circle cx="323.9" cy="246.5" r="1.1" fill="#5a0e16" fill-opacity="0.65"/>
<circle cx="381.4" cy="217.8" r="1.55" fill="#c01a24" fill-opacity="0.9"/>
<circle cx="381.4" cy="217.8" r="0.7" fill="#f07c84" fill-opacity="0.55"/>
<circle cx="376" cy="221.2" r="1.25" fill="#a0161f" fill-opacity="0.8"/>
<circle cx="389.1" cy="230.4" r="1.55" fill="#c01a24" fill-opacity="0.9"/>
<circle cx="389.1" cy="230.4" r="0.7" fill="#f07c84" fill-opacity="0.55"/>
<circle cx="394.5" cy="234.2" r="1.25" fill="#a0161f" fill-opacity="0.8"/>
<circle cx="381.4" cy="226.5" r="1.25" fill="#a0161f" fill-opacity="0.8"/>
<circle cx="406.8" cy="225.8" r="1.25" fill="#a0161f" fill-opacity="0.8"/>
<circle cx="416" cy="219.6" r="1.1" fill="#5a0e16" fill-opacity="0.65"/>
<circle cx="423.7" cy="228.8" r="1.25" fill="#a0161f" fill-opacity="0.8"/>
<circle cx="360.6" cy="228.1" r="1.1" fill="#5a0e16" fill-opacity="0.65"/>
<circle cx="369.8" cy="229.6" r="1.1" fill="#5a0e16" fill-opacity="0.65"/>
<circle cx="362.2" cy="234.2" r="1.1" fill="#5a0e16" fill-opacity="0.65"/>
<circle cx="399.8" cy="243.5" r="1.25" fill="#a0161f" fill-opacity="0.8"/>
<circle cx="389.8" cy="244.2" r="1.1" fill="#5a0e16" fill-opacity="0.65"/>
<circle cx="407.5" cy="236.5" r="1.25" fill="#a0161f" fill-opacity="0.8"/>
<circle cx="414.5" cy="253.5" r="1.55" fill="#c01a24" fill-opacity="0.9"/>
<circle cx="414.5" cy="253.5" r="0.7" fill="#f07c84" fill-opacity="0.55"/>
<circle cx="409.8" cy="255" r="1.25" fill="#a0161f" fill-opacity="0.8"/>
<circle cx="426" cy="254.2" r="1.25" fill="#a0161f" fill-opacity="0.8"/>
<circle cx="397.5" cy="252.7" r="1.1" fill="#5a0e16" fill-opacity="0.65"/>
<circle cx="381.4" cy="254.2" r="1.1" fill="#5a0e16" fill-opacity="0.65"/>
<circle cx="375.2" cy="262.7" r="1.1" fill="#5a0e16" fill-opacity="0.65"/>
<circle cx="372.2" cy="268.8" r="1.25" fill="#a0161f" fill-opacity="0.8"/>
<circle cx="415.2" cy="265.8" r="1.1" fill="#5a0e16" fill-opacity="0.65"/>
<circle cx="418.3" cy="268.8" r="1.25" fill="#a0161f" fill-opacity="0.8"/>
<circle cx="365.2" cy="265.8" r="1.1" fill="#5a0e16" fill-opacity="0.65"/>
<circle cx="402.2" cy="231.9" r="1.1" fill="#5a0e16" fill-opacity="0.65"/>
<circle cx="426.8" cy="232.7" r="1.1" fill="#5a0e16" fill-opacity="0.65"/>
<circle cx="431.4" cy="243.5" r="1.1" fill="#5a0e16" fill-opacity="0.65"/>
<circle cx="379.1" cy="244.2" r="1.1" fill="#5a0e16" fill-opacity="0.65"/>
<circle cx="366.8" cy="245.8" r="1.1" fill="#5a0e16" fill-opacity="0.65"/>
<circle cx="403.7" cy="264.2" r="1.1" fill="#5a0e16" fill-opacity="0.65"/>
<circle cx="392.9" cy="262.7" r="1.1" fill="#5a0e16" fill-opacity="0.65"/>
<circle cx="360.6" cy="253.5" r="1.1" fill="#5a0e16" fill-opacity="0.65"/>
<circle cx="483.7" cy="238.1" r="1.55" fill="#c01a24" fill-opacity="0.9"/>
<circle cx="483.7" cy="238.1" r="0.7" fill="#f07c84" fill-opacity="0.55"/>
<circle cx="479.8" cy="224.2" r="1.1" fill="#5a0e16" fill-opacity="0.65"/>
<circle cx="489.8" cy="226.5" r="1.1" fill="#5a0e16" fill-opacity="0.65"/>
<circle cx="450.6" cy="229.6" r="1.1" fill="#5a0e16" fill-opacity="0.65"/>
<circle cx="456" cy="239.6" r="1.1" fill="#5a0e16" fill-opacity="0.65"/>
<circle cx="459.1" cy="245.8" r="1.1" fill="#5a0e16" fill-opacity="0.65"/>
<circle cx="442.2" cy="243.5" r="1.1" fill="#5a0e16" fill-opacity="0.65"/>
<circle cx="472.2" cy="250.4" r="1.1" fill="#5a0e16" fill-opacity="0.65"/>
<circle cx="487.5" cy="258.1" r="1.25" fill="#a0161f" fill-opacity="0.8"/>
<circle cx="482.2" cy="264.2" r="1.1" fill="#5a0e16" fill-opacity="0.65"/>
<circle cx="475.2" cy="266.5" r="1.1" fill="#5a0e16" fill-opacity="0.65"/>
<circle cx="506.8" cy="269.6" r="1.1" fill="#5a0e16" fill-opacity="0.65"/>
<circle cx="508.3" cy="258.1" r="1.1" fill="#5a0e16" fill-opacity="0.65"/>
<circle cx="444.5" cy="269.6" r="1.1" fill="#5a0e16" fill-opacity="0.65"/>
<circle cx="499.8" cy="240.4" r="1.1" fill="#5a0e16" fill-opacity="0.65"/>
<circle cx="495.2" cy="216.5" r="1.1" fill="#5a0e16" fill-opacity="0.65"/>
<circle cx="60.8" cy="286.5" r="1.55" fill="#c01a24" fill-opacity="0.9"/>
<circle cx="60.8" cy="286.5" r="0.7" fill="#f07c84" fill-opacity="0.55"/>
<circle cx="77" cy="282.9" r="1.55" fill="#c01a24" fill-opacity="0.9"/>
<circle cx="77" cy="282.9" r="0.7" fill="#f07c84" fill-opacity="0.55"/>
<circle cx="94.7" cy="282.2" r="1.55" fill="#c01a24" fill-opacity="0.9"/>
<circle cx="94.7" cy="282.2" r="0.7" fill="#f07c84" fill-opacity="0.55"/>
<circle cx="40.1" cy="311.1" r="1.25" fill="#a0161f" fill-opacity="0.8"/>
<circle cx="112.4" cy="324.5" r="1.55" fill="#c01a24" fill-opacity="0.9"/>
<circle cx="112.4" cy="324.5" r="0.7" fill="#f07c84" fill-opacity="0.55"/>
<circle cx="97.8" cy="297.5" r="1.25" fill="#a0161f" fill-opacity="0.8"/>
<circle cx="82.4" cy="300.6" r="1.25" fill="#a0161f" fill-opacity="0.8"/>
<circle cx="77" cy="296.8" r="1.1" fill="#5a0e16" fill-opacity="0.65"/>
<circle cx="60.1" cy="300.6" r="1.1" fill="#5a0e16" fill-opacity="0.65"/>
<circle cx="80.8" cy="330.6" r="1.25" fill="#a0161f" fill-opacity="0.8"/>
<circle cx="84.7" cy="329.8" r="1.25" fill="#a0161f" fill-opacity="0.8"/>
<circle cx="92.4" cy="329.8" r="1.25" fill="#a0161f" fill-opacity="0.8"/>
<circle cx="50.1" cy="325.2" r="1.1" fill="#5a0e16" fill-opacity="0.65"/>
<circle cx="69.3" cy="287.5" r="1.1" fill="#5a0e16" fill-opacity="0.65"/>
<circle cx="110.8" cy="304.5" r="1.1" fill="#5a0e16" fill-opacity="0.65"/>
<circle cx="70.8" cy="309.1" r="1.1" fill="#5a0e16" fill-opacity="0.65"/>
<circle cx="85.5" cy="316.8" r="1.1" fill="#5a0e16" fill-opacity="0.65"/>
<circle cx="45.5" cy="314.5" r="1.1" fill="#5a0e16" fill-opacity="0.65"/>
<circle cx="187.8" cy="285.2" r="1.1" fill="#5a0e16" fill-opacity="0.65"/>
<circle cx="157.8" cy="300.6" r="1.1" fill="#5a0e16" fill-opacity="0.65"/>
<circle cx="161.6" cy="299.8" r="1.1" fill="#5a0e16" fill-opacity="0.65"/>
<circle cx="141.6" cy="326.8" r="1.1" fill="#5a0e16" fill-opacity="0.65"/>
<circle cx="182.4" cy="325.2" r="1.1" fill="#5a0e16" fill-opacity="0.65"/>
<circle cx="158.5" cy="316" r="1.1" fill="#5a0e16" fill-opacity="0.65"/>
<circle cx="169.3" cy="304.5" r="1.1" fill="#5a0e16" fill-opacity="0.65"/>
<circle cx="132.4" cy="319.1" r="1.1" fill="#5a0e16" fill-opacity="0.65"/>
<circle cx="123.9" cy="329.8" r="1.1" fill="#5a0e16" fill-opacity="0.65"/>
<circle cx="226.2" cy="315.2" r="1.55" fill="#c01a24" fill-opacity="0.9"/>
<circle cx="226.2" cy="315.2" r="0.7" fill="#f07c84" fill-opacity="0.55"/>
<circle cx="257.8" cy="289.1" r="1.25" fill="#a0161f" fill-opacity="0.8"/>
<circle cx="253.9" cy="299.1" r="1.1" fill="#5a0e16" fill-opacity="0.65"/>
<circle cx="233.9" cy="324.5" r="1.25" fill="#a0161f" fill-opacity="0.8"/>
<circle cx="225.5" cy="299.1" r="1.1" fill="#5a0e16" fill-opacity="0.65"/>
<circle cx="230.1" cy="286" r="1.1" fill="#5a0e16" fill-opacity="0.65"/>
<circle cx="211.6" cy="296" r="1.1" fill="#5a0e16" fill-opacity="0.65"/>
<circle cx="224.7" cy="289.8" r="1.1" fill="#5a0e16" fill-opacity="0.65"/>
<circle cx="237" cy="312.9" r="1.1" fill="#5a0e16" fill-opacity="0.65"/>
<circle cx="257.8" cy="332.2" r="1.1" fill="#5a0e16" fill-opacity="0.65"/>
<circle cx="331.6" cy="299.1" r="1.1" fill="#5a0e16" fill-opacity="0.65"/>
<circle cx="315.5" cy="308.3" r="1.1" fill="#5a0e16" fill-opacity="0.65"/>
<circle cx="320.1" cy="314.5" r="1.1" fill="#5a0e16" fill-opacity="0.65"/>
<circle cx="307.8" cy="315.2" r="1.1" fill="#5a0e16" fill-opacity="0.65"/>
<circle cx="296.2" cy="330.6" r="1.1" fill="#5a0e16" fill-opacity="0.65"/>
<circle cx="323.2" cy="333.7" r="1.1" fill="#5a0e16" fill-opacity="0.65"/>
<circle cx="290.1" cy="289.8" r="1.1" fill="#5a0e16" fill-opacity="0.65"/>
<ellipse cx="406.8" cy="331.4" rx="1.4" ry="2.8" transform="rotate(-70 406.8 331.4)" fill="#c01a24" fill-opacity="0.9"/>
<ellipse cx="406.8" cy="331.4" rx="0.77" ry="1.26" transform="rotate(-70 406.8 331.4)" fill="#f07c84" fill-opacity="0.55"/>
<circle cx="401.4" cy="286.8" r="1.25" fill="#a0161f" fill-opacity="0.8"/>
<circle cx="413.7" cy="285.2" r="1.1" fill="#5a0e16" fill-opacity="0.65"/>
<circle cx="370.6" cy="284.5" r="1.1" fill="#5a0e16" fill-opacity="0.65"/>
<circle cx="364.5" cy="297.5" r="1.1" fill="#5a0e16" fill-opacity="0.65"/>
<circle cx="397.5" cy="294.5" r="1.1" fill="#5a0e16" fill-opacity="0.65"/>
<circle cx="399.8" cy="321.4" r="1.1" fill="#5a0e16" fill-opacity="0.65"/>
<circle cx="388.3" cy="321.4" r="1.1" fill="#5a0e16" fill-opacity="0.65"/>
<circle cx="416" cy="314.5" r="1.1" fill="#5a0e16" fill-opacity="0.65"/>
<circle cx="367.5" cy="315.2" r="1.1" fill="#5a0e16" fill-opacity="0.65"/>
<circle cx="397.5" cy="305.2" r="1.1" fill="#5a0e16" fill-opacity="0.65"/>
<circle cx="422.9" cy="282.9" r="1.1" fill="#5a0e16" fill-opacity="0.65"/>
<circle cx="459.8" cy="291.4" r="1.1" fill="#5a0e16" fill-opacity="0.65"/>
<circle cx="467.5" cy="300.6" r="1.1" fill="#5a0e16" fill-opacity="0.65"/>
<circle cx="449.1" cy="299.8" r="1.1" fill="#5a0e16" fill-opacity="0.65"/>
<circle cx="493.7" cy="316" r="1.1" fill="#5a0e16" fill-opacity="0.65"/>
<circle cx="485.2" cy="322.2" r="1.1" fill="#5a0e16" fill-opacity="0.65"/>
<circle cx="476" cy="326.8" r="1.1" fill="#5a0e16" fill-opacity="0.65"/>
<circle cx="502.2" cy="306" r="1.1" fill="#5a0e16" fill-opacity="0.65"/>
<circle cx="506" cy="331.4" r="1.1" fill="#5a0e16" fill-opacity="0.65"/>
<circle cx="440.6" cy="334.5" r="1.1" fill="#5a0e16" fill-opacity="0.65"/>
<circle cx="490.6" cy="309.1" r="1.1" fill="#5a0e16" fill-opacity="0.65"/>
<ellipse cx="59.5" cy="600.2" rx="3" ry="1.3" transform="rotate(-50 59.5 600.2)" fill="#c01a24" fill-opacity="0.9"/>
<ellipse cx="59.5" cy="600.2" rx="1.65" ry="0.59" transform="rotate(-50 59.5 600.2)" fill="#f07c84" fill-opacity="0.55"/>
<circle cx="51" cy="599.4" r="1.25" fill="#a0161f" fill-opacity="0.8"/>
<ellipse cx="74.8" cy="596.8" rx="2.5" ry="1.2" transform="rotate(-10 74.8 596.8)" fill="#a0161f" fill-opacity="0.8"/>
<ellipse cx="74.1" cy="602.5" rx="2.5" ry="1.2" transform="rotate(-20 74.1 602.5)" fill="#a0161f" fill-opacity="0.8"/>
<ellipse cx="66.4" cy="602.5" rx="2.5" ry="1.1" transform="rotate(-45 66.4 602.5)" fill="#a0161f" fill-opacity="0.8"/>
<ellipse cx="63.3" cy="584.8" rx="1.1" ry="2.3" transform="rotate(20 63.3 584.8)" fill="#a0161f" fill-opacity="0.8"/>
<circle cx="69.5" cy="590.9" r="1.25" fill="#a0161f" fill-opacity="0.8"/>
<circle cx="62.5" cy="590.9" r="1.1" fill="#5a0e16" fill-opacity="0.65"/>
<circle cx="82.5" cy="597.1" r="1.25" fill="#a0161f" fill-opacity="0.8"/>
<circle cx="81.8" cy="608.6" r="1.25" fill="#a0161f" fill-opacity="0.8"/>
<circle cx="79.5" cy="612.5" r="1.1" fill="#5a0e16" fill-opacity="0.65"/>
<ellipse cx="84.8" cy="618.6" rx="4" ry="1.3" transform="rotate(-35 84.8 618.6)" fill="#c01a24" fill-opacity="0.9"/>
<ellipse cx="84.8" cy="618.6" rx="2.20" ry="0.59" transform="rotate(-35 84.8 618.6)" fill="#f07c84" fill-opacity="0.55"/>
<ellipse cx="62.5" cy="620.9" rx="2.2" ry="1.1" transform="rotate(-30 62.5 620.9)" fill="#a0161f" fill-opacity="0.8"/>
<circle cx="99.5" cy="588.6" r="1.25" fill="#a0161f" fill-opacity="0.8"/>
<circle cx="98.7" cy="597.8" r="1.1" fill="#5a0e16" fill-opacity="0.65"/>
<circle cx="110.2" cy="620.9" r="1.25" fill="#a0161f" fill-opacity="0.8"/>
<circle cx="100.2" cy="577.8" r="1.1" fill="#5a0e16" fill-opacity="0.65"/>
<circle cx="87.9" cy="577.8" r="1.1" fill="#5a0e16" fill-opacity="0.65"/>
<circle cx="91" cy="627.8" r="1.1" fill="#5a0e16" fill-opacity="0.65"/>
<circle cx="82.5" cy="624" r="1.1" fill="#5a0e16" fill-opacity="0.65"/>
<circle cx="157.9" cy="596.3" r="1.1" fill="#5a0e16" fill-opacity="0.65"/>
<circle cx="188.7" cy="594" r="1.1" fill="#5a0e16" fill-opacity="0.65"/>
<circle cx="165.6" cy="580.9" r="1.1" fill="#5a0e16" fill-opacity="0.65"/>
<circle cx="152.5" cy="628.6" r="1.1" fill="#5a0e16" fill-opacity="0.65"/>
<ellipse cx="228.7" cy="580.9" rx="2.3" ry="1.1" transform="rotate(30 228.7 580.9)" fill="#a0161f" fill-opacity="0.8"/>
<ellipse cx="259.5" cy="581.7" rx="2" ry="1.1" transform="rotate(-45 259.5 581.7)" fill="#a0161f" fill-opacity="0.8"/>
<ellipse cx="227.9" cy="597.8" rx="2.8" ry="1.3" transform="rotate(-30 227.9 597.8)" fill="#c01a24" fill-opacity="0.9"/>
<ellipse cx="227.9" cy="597.8" rx="1.54" ry="0.59" transform="rotate(-30 227.9 597.8)" fill="#f07c84" fill-opacity="0.55"/>
<ellipse cx="251" cy="600.2" rx="3.5" ry="1.3" transform="rotate(-40 251 600.2)" fill="#c01a24" fill-opacity="0.9"/>
<ellipse cx="251" cy="600.2" rx="1.93" ry="0.59" transform="rotate(-40 251 600.2)" fill="#f07c84" fill-opacity="0.55"/>
<ellipse cx="215.6" cy="613.2" rx="3.5" ry="1.3" transform="rotate(-25 215.6 613.2)" fill="#c01a24" fill-opacity="0.9"/>
<ellipse cx="215.6" cy="613.2" rx="1.93" ry="0.59" transform="rotate(-25 215.6 613.2)" fill="#f07c84" fill-opacity="0.55"/>
<circle cx="220.2" cy="611.7" r="1.25" fill="#a0161f" fill-opacity="0.8"/>
<ellipse cx="263.3" cy="619.4" rx="2.5" ry="1.2" transform="rotate(-30 263.3 619.4)" fill="#a0161f" fill-opacity="0.8"/>
<circle cx="238.7" cy="577.1" r="1.1" fill="#5a0e16" fill-opacity="0.65"/>
<circle cx="248.7" cy="594.8" r="1.1" fill="#5a0e16" fill-opacity="0.65"/>
<circle cx="227.9" cy="614.8" r="1.1" fill="#5a0e16" fill-opacity="0.65"/>
<circle cx="234.1" cy="619.4" r="1.1" fill="#5a0e16" fill-opacity="0.65"/>
<circle cx="221" cy="627.1" r="1.1" fill="#5a0e16" fill-opacity="0.65"/>
<circle cx="271" cy="607.1" r="1.1" fill="#5a0e16" fill-opacity="0.65"/>
<circle cx="238.7" cy="606.3" r="1.1" fill="#5a0e16" fill-opacity="0.65"/>
<circle cx="309.5" cy="598.6" r="1.25" fill="#a0161f" fill-opacity="0.8"/>
<circle cx="309.5" cy="606.3" r="1.55" fill="#c01a24" fill-opacity="0.9"/>
<circle cx="309.5" cy="606.3" r="0.7" fill="#f07c84" fill-opacity="0.55"/>
<circle cx="341" cy="597.8" r="1.55" fill="#c01a24" fill-opacity="0.9"/>
<circle cx="341" cy="597.8" r="0.7" fill="#f07c84" fill-opacity="0.55"/>
<circle cx="332.5" cy="609.4" r="1.55" fill="#c01a24" fill-opacity="0.9"/>
<circle cx="332.5" cy="609.4" r="0.7" fill="#f07c84" fill-opacity="0.55"/>
<circle cx="325.6" cy="604.8" r="1.1" fill="#5a0e16" fill-opacity="0.65"/>
<ellipse cx="321" cy="618.6" rx="2.3" ry="1.1" transform="rotate(0 321 618.6)" fill="#a0161f" fill-opacity="0.8"/>
<circle cx="321" cy="607.1" r="1.1" fill="#5a0e16" fill-opacity="0.65"/>
<circle cx="307.9" cy="617.1" r="1.1" fill="#5a0e16" fill-opacity="0.65"/>
<circle cx="404.6" cy="604.8" r="1.25" fill="#a0161f" fill-opacity="0.8"/>
<circle cx="406.9" cy="592.5" r="1.1" fill="#5a0e16" fill-opacity="0.65"/>
<circle cx="393.1" cy="598.6" r="1.1" fill="#5a0e16" fill-opacity="0.65"/>
<circle cx="418.5" cy="597.1" r="1.1" fill="#5a0e16" fill-opacity="0.65"/>
<circle cx="418.5" cy="591.7" r="1.1" fill="#5a0e16" fill-opacity="0.65"/>
<circle cx="381.5" cy="612.5" r="1.1" fill="#5a0e16" fill-opacity="0.65"/>
<circle cx="380" cy="577.1" r="1.1" fill="#5a0e16" fill-opacity="0.65"/>
<circle cx="407.7" cy="628.6" r="1.1" fill="#5a0e16" fill-opacity="0.65"/>
<circle cx="433.8" cy="598.6" r="1.1" fill="#5a0e16" fill-opacity="0.65"/>
<circle cx="476.9" cy="599.4" r="1.55" fill="#c01a24" fill-opacity="0.9"/>
<circle cx="476.9" cy="599.4" r="0.7" fill="#f07c84" fill-opacity="0.55"/>
<circle cx="485.4" cy="588.6" r="1.1" fill="#5a0e16" fill-opacity="0.65"/>
<circle cx="459.2" cy="609.4" r="1.25" fill="#a0161f" fill-opacity="0.8"/>
<circle cx="501.5" cy="614" r="1.55" fill="#c01a24" fill-opacity="0.9"/>
<circle cx="501.5" cy="614" r="0.7" fill="#f07c84" fill-opacity="0.55"/>
<circle cx="453.8" cy="584.8" r="1.1" fill="#5a0e16" fill-opacity="0.65"/>
<circle cx="442.3" cy="605.5" r="1.1" fill="#5a0e16" fill-opacity="0.65"/>
<circle cx="88.7" cy="660.7" r="1.55" fill="#c01a24" fill-opacity="0.9"/>
<circle cx="88.7" cy="660.7" r="0.7" fill="#f07c84" fill-opacity="0.55"/>
<circle cx="86.4" cy="673.8" r="1.25" fill="#a0161f" fill-opacity="0.8"/>
<circle cx="52.5" cy="673" r="1.25" fill="#a0161f" fill-opacity="0.8"/>
<circle cx="51.8" cy="679.9" r="1.25" fill="#a0161f" fill-opacity="0.8"/>
<circle cx="49.5" cy="689.2" r="1.25" fill="#a0161f" fill-opacity="0.8"/>
<circle cx="97.9" cy="689.2" r="1.25" fill="#a0161f" fill-opacity="0.8"/>
<ellipse cx="110.2" cy="683" rx="1" ry="2.3" transform="rotate(80 110.2 683)" fill="#5a0e16" fill-opacity="0.65"/>
<circle cx="63.3" cy="633.8" r="1.1" fill="#5a0e16" fill-opacity="0.65"/>
<circle cx="48.7" cy="656.8" r="1.1" fill="#5a0e16" fill-opacity="0.65"/>
<circle cx="91" cy="652.2" r="1.1" fill="#5a0e16" fill-opacity="0.65"/>
<circle cx="98.7" cy="666.1" r="1.1" fill="#5a0e16" fill-opacity="0.65"/>
<circle cx="178.7" cy="651.5" r="1.1" fill="#5a0e16" fill-opacity="0.65"/>
<circle cx="161.8" cy="682.2" r="1.25" fill="#a0161f" fill-opacity="0.8"/>
<circle cx="165.6" cy="677.6" r="1.1" fill="#5a0e16" fill-opacity="0.65"/>
<circle cx="152.5" cy="633.8" r="1.1" fill="#5a0e16" fill-opacity="0.65"/>
<circle cx="254.1" cy="639.2" r="1.55" fill="#c01a24" fill-opacity="0.9"/>
<circle cx="254.1" cy="639.2" r="0.7" fill="#f07c84" fill-opacity="0.55"/>
<ellipse cx="225.6" cy="637.6" rx="2.2" ry="1.1" transform="rotate(40 225.6 637.6)" fill="#a0161f" fill-opacity="0.8"/>
<circle cx="260.2" cy="644.5" r="1.1" fill="#5a0e16" fill-opacity="0.65"/>
<circle cx="248.7" cy="656.8" r="1.25" fill="#a0161f" fill-opacity="0.8"/>
<circle cx="229.5" cy="660.7" r="1.25" fill="#a0161f" fill-opacity="0.8"/>
<circle cx="238.7" cy="659.2" r="1.1" fill="#5a0e16" fill-opacity="0.65"/>
<circle cx="245.6" cy="663" r="1.1" fill="#5a0e16" fill-opacity="0.65"/>
<circle cx="219.5" cy="667.6" r="1.25" fill="#a0161f" fill-opacity="0.8"/>
<circle cx="241" cy="667.6" r="1.1" fill="#5a0e16" fill-opacity="0.65"/>
<circle cx="252.5" cy="669.2" r="1.1" fill="#5a0e16" fill-opacity="0.65"/>
<circle cx="257.9" cy="676.8" r="1.1" fill="#5a0e16" fill-opacity="0.65"/>
<circle cx="255.6" cy="660.7" r="1.1" fill="#5a0e16" fill-opacity="0.65"/>
<circle cx="339.5" cy="662.2" r="1.55" fill="#c01a24" fill-opacity="0.9"/>
<circle cx="339.5" cy="662.2" r="0.7" fill="#f07c84" fill-opacity="0.55"/>
<circle cx="322.5" cy="683.8" r="1.55" fill="#c01a24" fill-opacity="0.9"/>
<circle cx="322.5" cy="683.8" r="0.7" fill="#f07c84" fill-opacity="0.55"/>
<circle cx="327.2" cy="683.8" r="1.1" fill="#5a0e16" fill-opacity="0.65"/>
<circle cx="333.3" cy="673" r="1.25" fill="#a0161f" fill-opacity="0.8"/>
<circle cx="325.6" cy="656.1" r="1.1" fill="#5a0e16" fill-opacity="0.65"/>
<circle cx="322.5" cy="652.2" r="1.1" fill="#5a0e16" fill-opacity="0.65"/>
<circle cx="335.6" cy="652.2" r="1.1" fill="#5a0e16" fill-opacity="0.65"/>
<circle cx="313.3" cy="661.5" r="1.1" fill="#5a0e16" fill-opacity="0.65"/>
<circle cx="346.4" cy="686.1" r="1.1" fill="#5a0e16" fill-opacity="0.65"/>
<circle cx="405.4" cy="656.8" r="1.25" fill="#a0161f" fill-opacity="0.8"/>
<circle cx="404.6" cy="667.6" r="1.25" fill="#a0161f" fill-opacity="0.8"/>
<circle cx="378.5" cy="665.3" r="1.1" fill="#5a0e16" fill-opacity="0.65"/>
<circle cx="370" cy="639.9" r="1.1" fill="#5a0e16" fill-opacity="0.65"/>
<circle cx="394.6" cy="668.4" r="1.1" fill="#5a0e16" fill-opacity="0.65"/>
<circle cx="382.3" cy="676.1" r="1.1" fill="#5a0e16" fill-opacity="0.65"/>
<circle cx="421.5" cy="676.8" r="1.1" fill="#5a0e16" fill-opacity="0.65"/>
<circle cx="433.8" cy="677.6" r="1.1" fill="#5a0e16" fill-opacity="0.65"/>
<circle cx="463.8" cy="666.1" r="1.1" fill="#5a0e16" fill-opacity="0.65"/>
<circle cx="507.7" cy="663.8" r="1.1" fill="#5a0e16" fill-opacity="0.65"/>
<circle cx="476.9" cy="646.8" r="1.1" fill="#5a0e16" fill-opacity="0.65"/>
<circle cx="458.5" cy="636.8" r="1.1" fill="#5a0e16" fill-opacity="0.65"/>
<circle cx="476.2" cy="638.4" r="1.1" fill="#5a0e16" fill-opacity="0.65"/>
</g>
<rect x="116.10" y="215.8" width="1.8" height="121.00" fill="#fff"/>
<rect x="196.30" y="215.8" width="1.8" height="121.00" fill="#fff"/>
<rect x="275.80" y="215.8" width="1.8" height="121.00" fill="#fff"/>
<rect x="355.30" y="215.8" width="1.8" height="121.00" fill="#fff"/>
<rect x="435.10" y="215.8" width="1.8" height="121.00" fill="#fff"/>
<rect x="37.6" y="275.45" width="477.20" height="1.8" fill="#fff"/>
<rect x="119.30" y="574.4" width="1.9" height="118.30" fill="#fff"/>
<rect x="199.05" y="574.4" width="1.9" height="118.30" fill="#fff"/>
<rect x="278.95" y="574.4" width="1.9" height="118.30" fill="#fff"/>
<rect x="358.35" y="574.4" width="1.9" height="118.30" fill="#fff"/>
<rect x="438.05" y="574.4" width="1.9" height="118.30" fill="#fff"/>
<rect x="41.0" y="631.05" width="477.00" height="1.9" fill="#fff"/>
<text x="2.00" y="241.10" font-size="10.2" font-weight="bold" text-anchor="start" fill="#000" stroke="#000" stroke-width="0.35" >RS-</text>
<text x="2.00" y="253.00" font-size="10.2" font-weight="bold" text-anchor="start" fill="#000" stroke="#000" stroke-width="0.35" >MSCs</text>
<text x="2.00" y="304.30" font-size="10.2" font-weight="bold" text-anchor="start" fill="#000" stroke="#000" stroke-width="0.35" >SR-</text>
<text x="2.00" y="316.00" font-size="10.2" font-weight="bold" text-anchor="start" fill="#000" stroke="#000" stroke-width="0.35" >MSCs</text>
<text x="3.80" y="598.50" font-size="10.2" font-weight="bold" text-anchor="start" fill="#000" stroke="#000" stroke-width="0.35" >RS-</text>
<text x="3.80" y="610.40" font-size="10.2" font-weight="bold" text-anchor="start" fill="#000" stroke="#000" stroke-width="0.35" >MSCs</text>
<text x="4.20" y="658.20" font-size="10.2" font-weight="bold" text-anchor="start" fill="#000" stroke="#000" stroke-width="0.35" >SR-</text>
<text x="4.20" y="670.30" font-size="10.2" font-weight="bold" text-anchor="start" fill="#000" stroke="#000" stroke-width="0.35" >MSCs</text>
<text x="78.50" y="353.00" font-size="10.2" font-weight="bold" text-anchor="middle" fill="#000" stroke="#000" stroke-width="0.35" >10% Serum</text>
<text x="157.70" y="353.00" font-size="10.2" font-weight="bold" text-anchor="middle" fill="#000" stroke="#000" stroke-width="0.35" >Serum-free</text>
<text x="237.70" y="353.00" font-size="10.2" font-weight="bold" text-anchor="middle" fill="#000" stroke="#000" stroke-width="0.35" >SDF-1</text>
<text x="316.00" y="353.00" font-size="10.2" font-weight="bold" text-anchor="middle" fill="#000" stroke="#000" stroke-width="0.35" >SDF-1</text>
<text x="316.00" y="365.50" font-size="10.2" font-weight="bold" text-anchor="middle" fill="#000" stroke="#000" stroke-width="0.35" >+anti-CXCR4</text>
<text x="399.20" y="353.00" font-size="10.2" font-weight="bold" text-anchor="middle" fill="#000" stroke="#000" stroke-width="0.35" >Fractalkine</text>
<text x="477.70" y="353.00" font-size="10.2" font-weight="bold" text-anchor="middle" fill="#000" stroke="#000" stroke-width="0.35" >Fractalkine</text>
<text x="477.70" y="365.50" font-size="10.2" font-weight="bold" text-anchor="middle" fill="#000" stroke="#000" stroke-width="0.35" >+anti-CX3CR1</text>
<text x="78.70" y="705.00" font-size="10.2" font-weight="bold" text-anchor="middle" fill="#000" stroke="#000" stroke-width="0.35" >10% Serum</text>
<text x="156.20" y="705.00" font-size="10.2" font-weight="bold" text-anchor="middle" fill="#000" stroke="#000" stroke-width="0.35" >Serum-free</text>
<text x="201.40" y="705.00" font-size="10.2" font-weight="bold" text-anchor="start" fill="#000" stroke="#000" stroke-width="0.35" >Neurospheres</text>
<text x="282.20" y="705.00" font-size="10.2" font-weight="bold" text-anchor="start" fill="#000" stroke="#000" stroke-width="0.35" >Neurospheres</text>
<text x="282.20" y="717.30" font-size="10.2" font-weight="bold" text-anchor="start" fill="#000" stroke="#000" stroke-width="0.35" >+ anti-CXCR4</text>
<text x="364.70" y="705.00" font-size="10.2" font-weight="bold" text-anchor="start" fill="#000" stroke="#000" stroke-width="0.35" >Neurospheres</text>
<text x="364.70" y="717.30" font-size="10.2" font-weight="bold" text-anchor="start" fill="#000" stroke="#000" stroke-width="0.35" >+ anti-CX3CR1</text>
<text x="444.80" y="705.00" font-size="10.2" font-weight="bold" text-anchor="start" fill="#000" stroke="#000" stroke-width="0.35" >Neurospheres</text>
<text x="444.80" y="717.30" font-size="10.2" font-weight="bold" text-anchor="start" fill="#000" stroke="#000" stroke-width="0.35" >+ anti-CXCR4</text>
<text x="444.80" y="729.60" font-size="10.2" font-weight="bold" text-anchor="start" fill="#000" stroke="#000" stroke-width="0.35" >+ anti-CX3CR1</text>
</svg></body></html>
